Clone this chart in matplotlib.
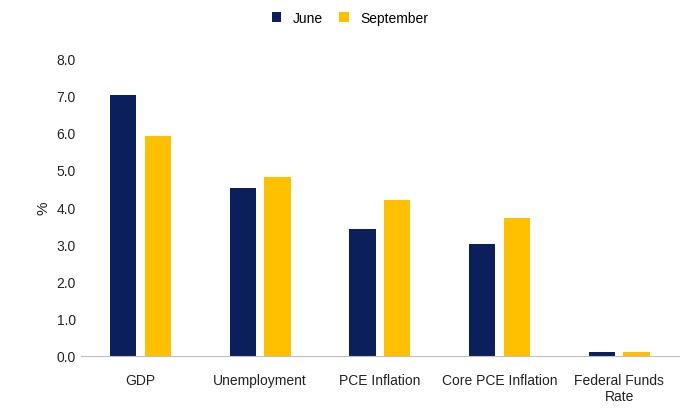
import matplotlib
matplotlib.use("Agg")
from matplotlib import pyplot as plt
import numpy as np

categories = ["GDP", "Unemployment", "PCE Inflation", "Core PCE Inflation", "Federal Funds\nRate"]
june = [7.0, 4.5, 3.4, 3.0, 0.1]
september = [5.9, 4.8, 4.2, 3.7, 0.1]

plt.rcParams['font.family'] = ['Liberation Sans', 'DejaVu Sans']
fig = plt.figure(figsize=(7, 4.14), dpi=100)
ax = fig.add_axes([0.115, 0.138, 0.855, 0.719])

x = np.arange(len(categories))
w = 0.22
ax.bar(x - 0.145, june, w, color="#0b1f5c", label="June")
ax.bar(x + 0.145, september, w, color="#ffc000", label="September")

ax.set_xlim(-0.5, len(categories) - 0.5)
ax.set_ylim(0, 8)
ax.set_yticks(np.arange(0, 8.1, 1))
ax.set_yticklabels([f"{v:.1f}" for v in np.arange(0, 8.1, 1)])
ax.set_xticks(x)
ax.set_xticklabels(categories)
ax.tick_params(axis='both', length=0, labelsize=10, colors="#222222")
ax.tick_params(axis='x', pad=12)
ax.set_ylabel("%", fontsize=11, color="#222222")
for s in ["top", "right", "left"]:
    ax.spines[s].set_visible(False)
ax.spines["bottom"].set_color("#bfbfbf")

ax.legend(loc="upper center", bbox_to_anchor=(0.45, 1.2), ncol=2, frameon=False,
          fontsize=10, handlelength=0.7, handleheight=0.7, columnspacing=1.2)

fig.savefig("out.png", dpi=100)
